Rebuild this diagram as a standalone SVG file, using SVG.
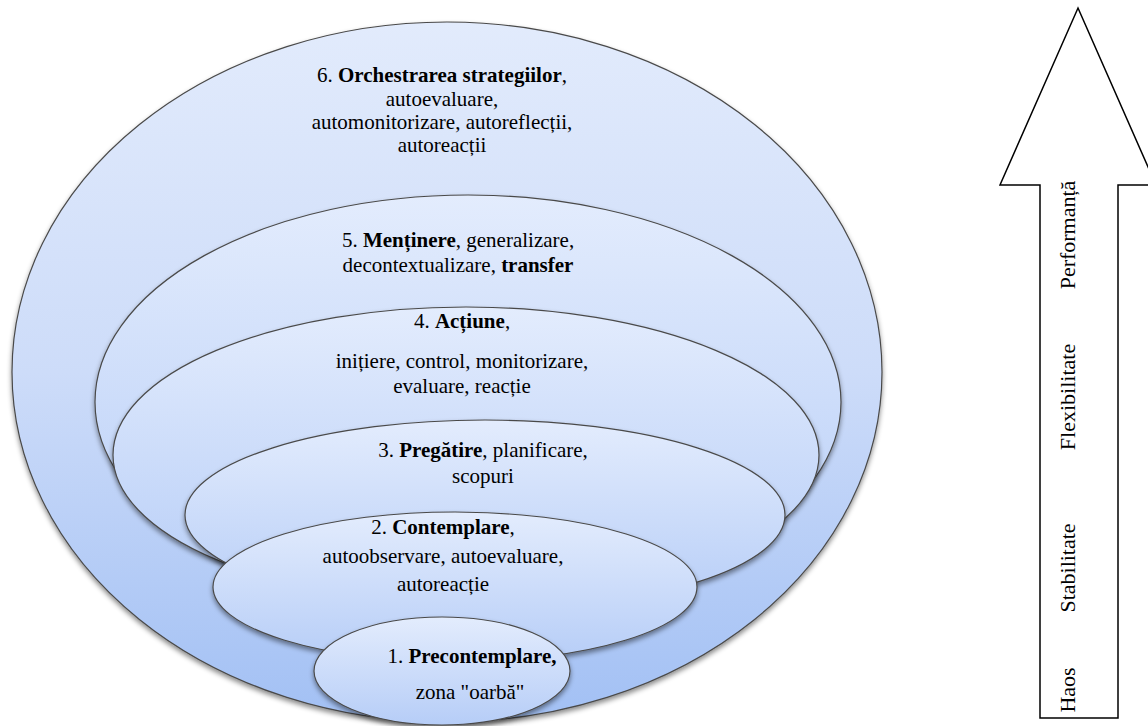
<svg xmlns="http://www.w3.org/2000/svg" width="1148" height="726" viewBox="0 0 1148 726">
<style>
.lvl{stroke:#4a4a4a;stroke-width:1.2px;filter:url(#sh)}
</style>
<defs>
<linearGradient id="gOuter" x1="0" y1="0" x2="0" y2="1">
<stop offset="0" stop-color="#e2ebfc"/>
<stop offset="0.5" stop-color="#cddcf9"/>
<stop offset="1" stop-color="#a2c0f4"/>
</linearGradient>
<linearGradient id="gIn" x1="0" y1="0" x2="0" y2="1">
<stop offset="0" stop-color="#e3ecfd"/>
<stop offset="1" stop-color="#b6cdf7"/>
</linearGradient>
<filter id="sh" x="-10%" y="-10%" width="120%" height="130%">
<feDropShadow dx="0" dy="3" stdDeviation="2.5" flood-color="#000" flood-opacity="0.45"/>
</filter>
</defs>
<rect width="1148" height="726" fill="#fff"/>

<g id="level6">
<ellipse class="lvl" cx="447" cy="372" rx="435" ry="350" fill="url(#gOuter)"/>
<text transform="translate(442,82) scale(0.875)" font-family="Liberation Serif" font-size="24" text-anchor="middle">6. <tspan font-weight="bold">Orchestrarea strategiilor</tspan>,</text>
<text transform="translate(442,106) scale(0.875)" font-family="Liberation Serif" font-size="24" text-anchor="middle">autoevaluare,</text>
<text transform="translate(442,129) scale(0.875)" font-family="Liberation Serif" font-size="24" text-anchor="middle">automonitorizare, autoreflecții,</text>
<text transform="translate(442,152) scale(0.875)" font-family="Liberation Serif" font-size="24" text-anchor="middle">autoreacții</text>
</g>

<g id="level5">
<ellipse class="lvl" cx="468" cy="402" rx="373" ry="207" fill="url(#gIn)"/>
<text transform="translate(458,247) scale(0.875)" font-family="Liberation Serif" font-size="24" text-anchor="middle">5. <tspan font-weight="bold">Menținere</tspan>, generalizare,</text>
<text transform="translate(458,272) scale(0.875)" font-family="Liberation Serif" font-size="24" text-anchor="middle">decontextualizare, <tspan font-weight="bold">transfer</tspan></text>
</g>

<g id="level4">
<ellipse class="lvl" cx="466" cy="455" rx="353" ry="148" fill="url(#gIn)"/>
<text transform="translate(462,328) scale(0.875)" font-family="Liberation Serif" font-size="24" text-anchor="middle">4. <tspan font-weight="bold">Acțiune</tspan>,</text>
<text transform="translate(462,368) scale(0.875)" font-family="Liberation Serif" font-size="24" text-anchor="middle">inițiere, control, monitorizare,</text>
<text transform="translate(462,393) scale(0.875)" font-family="Liberation Serif" font-size="24" text-anchor="middle">evaluare, reacție</text>
</g>

<g id="level3">
<ellipse class="lvl" cx="485" cy="515" rx="300" ry="95" fill="url(#gIn)"/>
<text transform="translate(483,457) scale(0.875)" font-family="Liberation Serif" font-size="24" text-anchor="middle">3. <tspan font-weight="bold">Pregătire</tspan>, planificare,</text>
<text transform="translate(483,483) scale(0.875)" font-family="Liberation Serif" font-size="24" text-anchor="middle">scopuri</text>
</g>

<g id="level2">
<ellipse class="lvl" cx="455" cy="587" rx="242" ry="75" fill="url(#gIn)"/>
<text transform="translate(443,534) scale(0.875)" font-family="Liberation Serif" font-size="24" text-anchor="middle">2. <tspan font-weight="bold">Contemplare</tspan>,</text>
<text transform="translate(443,563) scale(0.875)" font-family="Liberation Serif" font-size="24" text-anchor="middle">autoobservare, autoevaluare,</text>
<text transform="translate(443,591) scale(0.875)" font-family="Liberation Serif" font-size="24" text-anchor="middle">autoreacție</text>
</g>

<g id="level1">
<ellipse class="lvl" cx="442" cy="671" rx="128" ry="54" fill="url(#gIn)"/>
<text transform="translate(472,663) scale(0.875)" font-family="Liberation Serif" font-size="24" text-anchor="middle">1. <tspan font-weight="bold">Precontemplare,</tspan></text>
<text transform="translate(470,699) scale(0.875)" font-family="Liberation Serif" font-size="24" text-anchor="middle">zona "oarbă"</text>
</g>

<g id="connectors">
<g id="progress-arrow">
<polygon points="1078,8 1156,185 1118,185 1118,718 1040,718 1040,185 1000,185" fill="#fff" stroke="#000" stroke-width="1.5" stroke-linejoin="miter"/>
<text transform="translate(1075,690) rotate(-90) scale(0.9167)" font-family="Liberation Serif" font-size="24" text-anchor="middle">Haos</text>
<text transform="translate(1075,568) rotate(-90) scale(0.9167)" font-family="Liberation Serif" font-size="24" text-anchor="middle">Stabilitate</text>
<text transform="translate(1075,397) rotate(-90) scale(0.9167)" font-family="Liberation Serif" font-size="24" text-anchor="middle">Flexibilitate</text>
<text transform="translate(1075,235) rotate(-90) scale(0.9167)" font-family="Liberation Serif" font-size="24" text-anchor="middle">Performanță</text>
</g>
</g>
</svg>
